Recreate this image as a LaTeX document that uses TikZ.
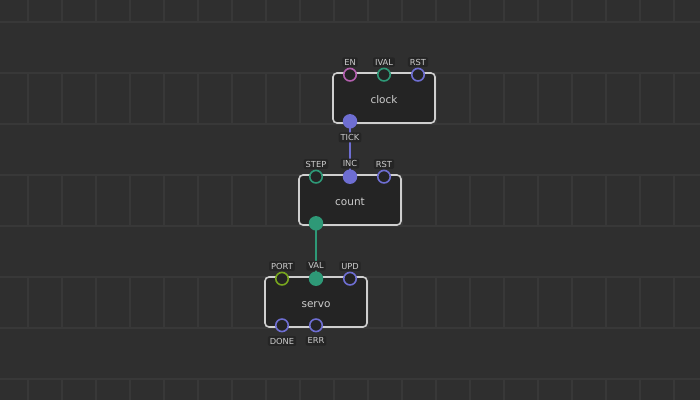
\documentclass[tikz,border=0pt]{standalone}
\usepackage{fontspec}
\setmainfont{DejaVu Sans}
\usepackage{tikz}
\usetikzlibrary{positioning}
\definecolor{bgcol}{HTML}{2F2F2F}
\definecolor{gridcol}{HTML}{383838}
\definecolor{boxcol}{HTML}{242424}
\definecolor{rimcol}{HTML}{CFCFCF}
\definecolor{tagcol}{HTML}{252525}
\definecolor{txtcol}{HTML}{CDCDCD}
\definecolor{pulsecol}{HTML}{6E6ED2}
\definecolor{numcol}{HTML}{2E9977}
\definecolor{boolcol}{HTML}{B35FAE}
\definecolor{portcol}{HTML}{78A61E}
\pgfdeclarelayer{back}
\pgfdeclarelayer{mid}
\pgfsetlayers{back,mid,main}
\tikzset{
  patch/.style={draw=rimcol, line width=1.6pt, fill=boxcol, rounded corners=4pt,
    minimum width=102pt, minimum height=50pt, text=txtcol, font=\fontsize{10.5}{12}\selectfont,
    text height=10.5pt, text depth=0pt},
  tag/.style={fill=tagcol, rounded corners=2pt, inner xsep=2pt, inner ysep=1.8pt,
    text=txtcol, font=\fontsize{8.3}{9}\selectfont},
  pin/.style={circle, line width=1.6pt, draw=#1, fill=boxcol, minimum size=12.5pt, inner sep=0pt},
  fullpin/.style={circle, fill=#1, minimum size=14.5pt, inner sep=0pt},
  toptag/.style={label={[tag, label distance=0.5pt]above:#1}},
  bottag/.style={label={[tag, label distance=3.5pt]below:#1}},
  link/.style={line width=1.6pt, draw=#1}
}
\begin{document}
\begin{tikzpicture}[x=1pt, y=-1pt]
  \useasboundingbox (0,0) rectangle (700,400);
  % Background and grid
  \begin{pgfonlayer}{back}
    \fill[bgcol] (0,0) rectangle (700,400);
    \foreach \y in {22,73,...,379}
      \draw[gridcol, line width=1.2pt] (0,\y) -- (700,\y);
    \foreach \t/\b in {0/22,73/124,175/226,277/328,379/400}
      \foreach \x in {28,62,...,674}
        \draw[gridcol, line width=1.2pt] (\x,\t) -- (\x,\b);
  \end{pgfonlayer}

  % Define patches
  \node[patch] (clock) at (384,98) {clock};
  \node[patch] (count) at (350,200) {count};
  \node[patch] (servo) at (316,302) {servo};

  % Pins of clock
  \node[pin=boolcol, toptag=EN] (clockEN) at ([shift={(-34pt,-2.5pt)}]clock.north) {};
  \node[pin=numcol, toptag=IVAL] (clockIVAL) at ([yshift=-2.5pt]clock.north) {};
  \node[pin=pulsecol, toptag=RST] (clockRST) at ([shift={(34pt,-2.5pt)}]clock.north) {};
  \node[fullpin=pulsecol, bottag=TICK] (clockTICK) at ([shift={(-34pt,2.5pt)}]clock.south) {};

  % Pins of count
  \node[pin=numcol, toptag=STEP] (countSTEP) at ([shift={(-34pt,-2.5pt)}]count.north) {};
  \node[fullpin=pulsecol, toptag=INC] (countINC) at ([yshift=-2.5pt]count.north) {};
  \node[pin=pulsecol, toptag=RST] (countRST) at ([shift={(34pt,-2.5pt)}]count.north) {};
  \node[fullpin=numcol] (countOUT) at ([shift={(-34pt,2.5pt)}]count.south) {};

  % Pins of servo
  \node[pin=portcol, toptag=PORT] (servoPORT) at ([shift={(-34pt,-2.5pt)}]servo.north) {};
  \node[fullpin=numcol, toptag=VAL] (servoVAL) at ([yshift=-2.5pt]servo.north) {};
  \node[pin=pulsecol, toptag=UPD] (servoUPD) at ([shift={(34pt,-2.5pt)}]servo.north) {};
  \node[pin=pulsecol, bottag=DONE] (servoDONE) at ([shift={(-34pt,2.5pt)}]servo.south) {};
  \node[pin=pulsecol, bottag=ERR] (servoERR) at ([yshift=2.5pt]servo.south) {};

  % Links
  \begin{pgfonlayer}{mid}
    \draw[link=pulsecol] (clockTICK.center) -- (countINC.center);
    \draw[link=numcol] (countOUT.center) -- (servoVAL.center);
  \end{pgfonlayer}
\end{tikzpicture}
\end{document}
